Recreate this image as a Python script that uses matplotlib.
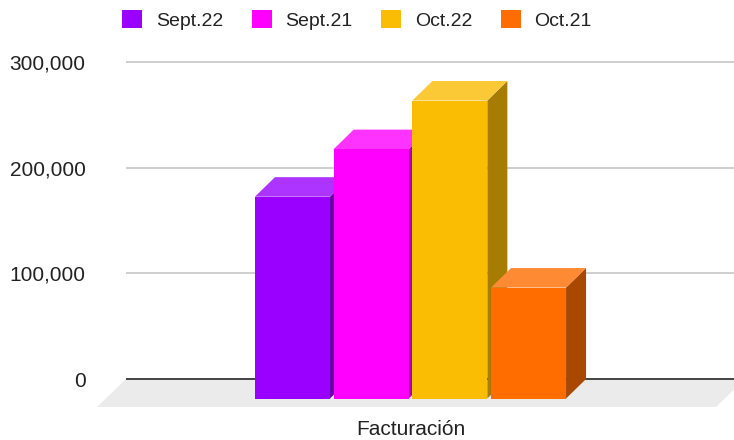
import numpy as np
import matplotlib.pyplot as plt
from matplotlib.patches import Polygon, Patch
import matplotlib.colors as mcolors

plt.rcParams['font.family'] = ['Liberation Sans', 'DejaVu Sans']

# data
category = "Facturación"
series = ["Sept.22", "Sept.21", "Oct.22", "Oct.21"]
values = [191000, 236000, 282000, 105000]
colors = ["#9900ff", "#ff00ff", "#fbbc04", "#ff6d01"]
yticks = [0, 100000, 200000, 300000]
ytick_labels = ["0", "100,000", "200,000", "300,000"]

W, H = 734, 440
fig = plt.figure(figsize=(W / 100, H / 100), dpi=100)

# axes box in pixels (back wall of the chart)
ax_l, ax_r, ax_t, ax_b = 126, 735, 50, 412
ax = fig.add_axes([ax_l / W, 1 - ax_b / H, (ax_r - ax_l) / W, (ax_b - ax_t) / H])

# y scale: 0 at px 379, 300k at px 62
y0_px, ytop_px = 379, 62
upp = 300000 / (y0_px - ytop_px)
ax.set_ylim(-(ax_b - y0_px) * upp, 300000 + (ytop_px - ax_t) * upp)
ax.set_xlim(-0.5, 0.5)
kx = 1.0 / (ax_r - ax_l)
ky = upp

# 3d depth in pixels
dx, dy = 20, 19.5
fdx, fdy = 29, 28

def lighten(c, f):
    r = np.array(mcolors.to_rgb(c))
    return tuple(r + (1 - r) * f)

def darken(c, f):
    return tuple(np.array(mcolors.to_rgb(c)) * f)

# floor
xl, xr = ax.get_xlim()
floor = Polygon([(xl, 0), (xr + 10 * kx, 0), (xr + 10 * kx - fdx * kx, -fdy * ky),
                 (xl - fdx * kx, -fdy * ky)], closed=True, facecolor="#ebebeb",
                edgecolor="none", clip_on=False, zorder=1)
ax.add_patch(floor)

ax.set_yticks(yticks)
ax.set_yticklabels(ytick_labels)
ax.yaxis.grid(True, color="#cccccc", linewidth=1.3, zorder=2)
ax.axhline(0, color="#444444", linewidth=1.4, zorder=3)
ax.set_axisbelow(True)
for s in ax.spines.values():
    s.set_visible(False)
ax.tick_params(axis="y", length=0, pad=29, labelsize=15, labelcolor="#222222")

# bars
bw = 75 * kx
step = 78.7 * kx
n = len(values)
for i, (v, c) in enumerate(zip(values, colors)):
    bx = (i - (n - 1) / 2) * step - bw / 2  # back-left
    ox, oy = -dx * kx, -dy * ky
    fl, fr = bx + ox, bx + bw + ox
    front = Polygon([(fl, oy), (fr, oy), (fr, v + oy), (fl, v + oy)],
                    facecolor=c, edgecolor="none", zorder=5 + i, clip_on=False)
    top = Polygon([(fl, v + oy), (fr, v + oy), (bx + bw, v), (bx, v)],
                  facecolor=lighten(c, 0.2), edgecolor="none", zorder=5 + i, clip_on=False)
    side = Polygon([(fr, oy), (bx + bw, 0), (bx + bw, v), (fr, v + oy)],
                   facecolor=darken(c, 0.66), edgecolor="none", zorder=5 + i, clip_on=False)
    for p in (side, top, front):
        ax.add_patch(p)

ax.set_xticks([-dx * kx])
ax.set_xticklabels([category])
ax.tick_params(axis="x", length=0, pad=6, labelsize=15, labelcolor="#222222")

handles = [Patch(facecolor=c, edgecolor="none") for c in colors]
fig.legend(handles, series, loc="center", bbox_to_anchor=(357 / W, 1 - 20 / H),
           ncol=4, frameon=False, fontsize=14, handlelength=1.05, handleheight=1.05,
           handletextpad=0.7, columnspacing=1.45, labelcolor="#222222")

fig.savefig("out.png", dpi=100)
